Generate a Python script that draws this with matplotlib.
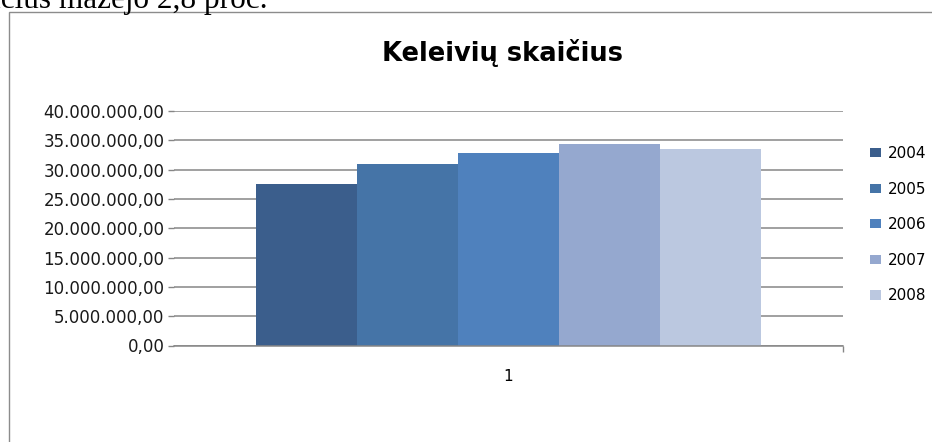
import matplotlib
matplotlib.use('Agg')
import matplotlib.pyplot as plt
from matplotlib.patches import Patch, Rectangle
from matplotlib.ticker import FuncFormatter
import numpy as np

# data
categories = ['1']
years = ['2004', '2005', '2006', '2007', '2008']
passengers = [27550000, 30960000, 32840000, 34370000, 33520000]
colors = ['#3b5e8c', '#4574a7', '#4f81bd', '#95a8cf', '#bbc8e0']
y_ticks = [0, 5e6, 10e6, 15e6, 20e6, 25e6, 30e6, 35e6, 40e6]

grey = '#868686'
plt.rcParams['font.family'] = ['DejaVu Sans']

fig = plt.figure(figsize=(9.32, 4.42), dpi=100)
ax = fig.add_axes([174 / 932, 96.5 / 442, 669 / 932, 234.5 / 442])

# bars, grouped around the single category
n = len(years)
bar_w = 0.756 / n
x0 = np.arange(len(categories))
for i, (yr, val, c) in enumerate(zip(years, passengers, colors)):
    off = (i - (n - 1) / 2) * bar_w
    ax.bar(x0 + off, [val], width=bar_w, color=c, edgecolor='none', label=yr, zorder=3)

ax.set_xlim(-0.5, 0.5)
ax.set_ylim(0, 40e6)


def lt_fmt(v, pos):
    s = '{:,.2f}'.format(v)
    return s.replace(',', 'X').replace('.', ',').replace('X', '.')


ax.set_yticks(y_ticks)
ax.yaxis.set_major_formatter(FuncFormatter(lt_fmt))
ax.tick_params(axis='y', length=4, color=grey, width=1, pad=3, labelsize=12, labelcolor='#1a1a1a')
ax.yaxis.grid(True, color=grey, lw=1.1, zorder=0)

ax.set_xticks([0.5])
ax.set_xticklabels([''])
ax.set_xticks(x0, minor=True)
ax.set_xticklabels(categories, minor=True)
ax.tick_params(axis='x', which='major', length=4.5, color=grey, width=1)
ax.tick_params(axis='x', which='minor', length=0, pad=17, labelsize=11)

for s in ['top', 'right', 'left']:
    ax.spines[s].set_visible(False)
ax.spines['bottom'].set_color(grey)
ax.spines['bottom'].set_linewidth(1.1)
ax.spines['bottom'].set_zorder(4)

fig.text(503 / 932, 1 - 61 / 442, 'Keleivių skaičius', ha='center', va='baseline',
         fontsize=18.5, fontweight='bold', color='black')

handles = [Patch(facecolor=c, edgecolor='none') for c in colors]
fig.legend(handles, years, loc='upper left', bbox_to_anchor=(870 / 932, 1 - 146 / 442),
           frameon=False, fontsize=11, handlelength=0.75, handleheight=0.55,
           handletextpad=0.4, labelspacing=1.35, borderpad=0, borderaxespad=0)

# chart frame and the cut off line of document text above it
fig.add_artist(Rectangle((8.5 / 932, -0.1), 1.2, 1.1 - 12 / 442, transform=fig.transFigure,
                         fill=False, edgecolor='#8c8c8c', lw=1))
fig.text(267 / 932, 1 - 8 / 442, 'keleivių skaičius mažėjo 2,8 proc.', ha='right', va='baseline',
         fontsize=22.5, family='Liberation Serif', color='black')

fig.savefig('out.png', dpi=100)
